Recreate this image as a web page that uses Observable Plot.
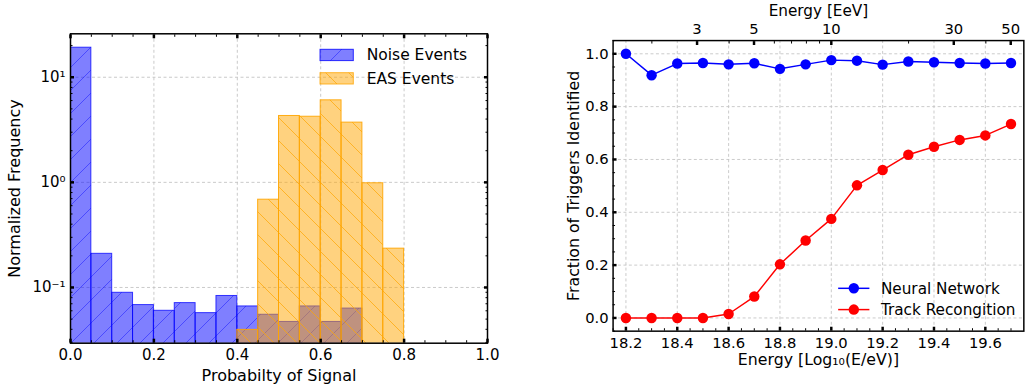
<!DOCTYPE html>
<html><head><meta charset="utf-8">
<script src="https://cdn.jsdelivr.net/npm/d3@7"></script>
<script src="https://cdn.jsdelivr.net/npm/@observablehq/plot@0.6"></script>
<style>
body{margin:0;width:1027px;height:389px;overflow:hidden;background:#fff;position:relative;font-family:"DejaVu Sans";}
#left{position:absolute;left:0;top:0;}
#right{position:absolute;left:500px;top:0;}
svg{overflow:visible;}
</style></head><body>
<div id="left"></div><div id="right"></div>
<script>
// ---- Left: histogram data (bin width 0.05) ----
const noiseBinLeft = [0, 0.05, 0.10, 0.15, 0.20, 0.25, 0.30, 0.35, 0.40, 0.45, 0.50, 0.55, 0.60, 0.65];
const noiseFreq    = [19.1, 0.209, 0.089, 0.068, 0.060, 0.071, 0.057, 0.083, 0.066, 0.055, 0.047, 0.066, 0.047, 0.063];
const easBinLeft   = [0.40, 0.45, 0.50, 0.55, 0.60, 0.65, 0.70, 0.75];
const easFreq      = [0.0395, 0.684, 4.28, 4.21, 6.03, 3.70, 0.98, 0.234];
const binWidth = 0.05;
const histXMajor = [0, 0.2, 0.4, 0.6, 0.8, 1.0];
const histXMinor = [0.05,0.1,0.15,0.25,0.3,0.35,0.45,0.5,0.55,0.65,0.7,0.75,0.85,0.9,0.95];
const histYMajor = [0.1, 1, 10];
const histYMinor = [0.03,0.04,0.05,0.06,0.07,0.08,0.09,0.2,0.3,0.4,0.5,0.6,0.7,0.8,0.9,2,3,4,5,6,7,8,9,20];
const histYLabels = {0.1: "10\u207B\u00B9", 1: "10\u2070", 10: "10\u00B9"};
const histLegend = ["Noise Events", "EAS Events"];

// ---- Right: efficiency data ----
const energyLog = [18.2,18.3,18.4,18.5,18.6,18.7,18.8,18.9,19.0,19.1,19.2,19.3,19.4,19.5,19.6,19.7];
const nnFrac    = [1.000,0.919,0.963,0.965,0.960,0.964,0.943,0.960,0.976,0.974,0.959,0.971,0.968,0.965,0.963,0.965];
const trackFrac = [0,0,0,0,0.015,0.081,0.203,0.293,0.375,0.502,0.560,0.618,0.648,0.674,0.691,0.734];
const effXMajor = [18.2,18.4,18.6,18.8,19.0,19.2,19.4,19.6];
const effXMinor = [18.15,18.25,18.3,18.35,18.45,18.5,18.55,18.65,18.7,18.75,18.85,18.9,18.95,19.05,19.1,19.15,19.25,19.3,19.35,19.45,19.5,19.55,19.65,19.7];
const effYMajor = [0,0.2,0.4,0.6,0.8,1.0];
const effYMinor = [-0.05,0.05,0.1,0.15,0.25,0.3,0.35,0.45,0.5,0.55,0.65,0.7,0.75,0.85,0.9,0.95,1.05];
const eevMajor = [3, 5, 10, 30, 50];
const eevMinor = [2, 4, 6, 7, 8, 9, 20, 40];
const effLegend = ["Neural Network", "Track Recongition"];

const FONT = "DejaVu Sans";
const TICKFS = 15, LABELFS = 16, LEGFS = 15.5;
const gridStyle = {stroke: "#c4c4c4", strokeOpacity: 1, strokeWidth: 0.9, strokeDasharray: "3,2.5"};

function inTicksX(values, anchor, size, width) {
  return Plot.axisX(values, {anchor, tickSize: -size, strokeWidth: width, tickFormat: () => "", label: null});
}
function inTicksY(values, anchor, size, width) {
  return Plot.axisY(values, {anchor, tickSize: -size, strokeWidth: width, tickFormat: () => "", label: null});
}

// ---------- LEFT PLOT ----------
const noise = noiseBinLeft.map((x, i) => ({x1: x, x2: x + binWidth, v: noiseFreq[i]}));
const eas = easBinLeft.map((x, i) => ({x1: x, x2: x + binWidth, v: easFreq[i]}));
const yFloor = 1e-3;

const left = Plot.plot({
  width: 500, height: 389,
  marginLeft: 70, marginRight: 13, marginTop: 33.3, marginBottom: 46.3,
  style: {fontFamily: FONT, fontSize: TICKFS + "px", background: "white", color: "black"},
  x: {domain: [0, 1], axis: null},
  y: {type: "log", domain: [0.0295, 25.9], axis: null},
  marks: [
    Plot.gridX([0.2, 0.4, 0.6, 0.8], gridStyle),
    Plot.gridY(histYMajor, gridStyle),
    Plot.rect(noise, {x1: "x1", x2: "x2", y1: () => yFloor, y2: "v", fill: "blue", fillOpacity: 0.5, clip: true}),
    Plot.rect(noise, {x1: "x1", x2: "x2", y1: () => yFloor, y2: "v", fill: "url(#hatchNoise)", stroke: "blue", strokeOpacity: 0.75, strokeWidth: 1, clip: true}),
    Plot.rect(eas, {x1: "x1", x2: "x2", y1: () => yFloor, y2: "v", fill: "orange", fillOpacity: 0.5, clip: true}),
    Plot.rect(eas, {x1: "x1", x2: "x2", y1: () => yFloor, y2: "v", fill: "url(#hatchEAS)", stroke: "orange", strokeOpacity: 0.9, strokeWidth: 1, clip: true}),
    Plot.frame({stroke: "black", strokeWidth: 1.5}),
    inTicksX(histXMajor, "bottom", 4, 2.5), inTicksX(histXMinor, "bottom", 2.5, 1),
    inTicksX(histXMajor, "top", 4, 2.5), inTicksX(histXMinor, "top", 2.5, 1),
    inTicksY(histYMajor, "left", 4, 2.5), inTicksY(histYMinor, "left", 2.5, 1),
    inTicksY(histYMajor, "right", 4, 2.5), inTicksY(histYMinor, "right", 2.5, 1),
    Plot.axisX(histXMajor, {anchor: "bottom", tickSize: 0, tickPadding: 6, tickFormat: d3.format(".1f"), fontSize: TICKFS, label: null}),
    Plot.axisY(histYMajor, {anchor: "left", tickSize: 0, tickPadding: 5, tickFormat: d => histYLabels[d], fontSize: TICKFS, label: null}),
    Plot.text(["Probabilty of Signal"], {frameAnchor: "bottom", dy: 32.3, lineAnchor: "middle", fontSize: LABELFS}),
    Plot.text(["Normalized Frequency"], {frameAnchor: "left", dx: -56, rotate: -90, textAnchor: "middle", lineAnchor: "middle", fontSize: LABELFS})
  ]
});
document.getElementById("left").appendChild(left);

// defs + legend for left
{
  const svg = d3.select(left);
  const defs = svg.insert("defs", ":first-child");
  const pn = defs.append("pattern").attr("id", "hatchNoise").attr("patternUnits", "userSpaceOnUse").attr("width", 23).attr("height", 23);
  pn.append("path").attr("d", "M0,23L23,0M-5,5L5,-5M18,28L28,18").attr("stroke", "blue").attr("stroke-opacity", 0.42).attr("stroke-width", 1).attr("fill", "none");
  const pe = defs.append("pattern").attr("id", "hatchEAS").attr("patternUnits", "userSpaceOnUse").attr("width", 23).attr("height", 23);
  pe.append("path").attr("d", "M0,0L23,23M-5,18L5,28M18,-5L28,5").attr("stroke", "orange").attr("stroke-opacity", 0.7).attr("stroke-width", 1).attr("fill", "none");
  const lg = svg.append("g").attr("font-family", FONT).attr("font-size", LEGFS).attr("text-anchor", "start");
  const items = [
    {label: histLegend[0], color: "blue", hatch: "hatchNoise", y: 49.3},
    {label: histLegend[1], color: "orange", hatch: "hatchEAS", y: 72.7}
  ];
  items.forEach(it => {
    lg.append("rect").attr("x", 320).attr("y", it.y).attr("width", 33.3).attr("height", 11.3).attr("fill", it.color).attr("fill-opacity", 0.5);
    lg.append("rect").attr("x", 320).attr("y", it.y).attr("width", 33.3).attr("height", 11.3).attr("fill", `url(#${it.hatch})`).attr("stroke", it.color).attr("stroke-opacity", 0.8);
    lg.append("text").attr("x", 366.7).attr("y", it.y + 5.7).attr("dy", "0.35em").attr("text-anchor", "start").text(it.label);
  });
}

// ---------- RIGHT PLOT ----------
const effData = energyLog.flatMap((e, i) => [
  {e, f: nnFrac[i], s: effLegend[0]},
  {e, f: trackFrac[i], s: effLegend[1]}
]);
const eevPos = v => 18 + Math.log10(v);
const right = Plot.plot({
  width: 535, height: 389,
  marginLeft: 114.3, marginRight: 3.7, marginTop: 40.7, marginBottom: 53.3,
  style: {fontFamily: FONT, fontSize: TICKFS + "px", background: "white", color: "black"},
  x: {domain: [18.15, 19.75], axis: null},
  y: {domain: [-0.05, 1.05], axis: null},
  color: {domain: effLegend, range: ["blue", "red"]},
  marks: [
    Plot.gridX(effXMajor, gridStyle),
    Plot.gridY(effYMajor, gridStyle),
    Plot.line(effData, {x: "e", y: "f", z: "s", stroke: "s", strokeWidth: 1.5}),
    Plot.dot(effData, {x: "e", y: "f", fill: "s", r: 5.3}),
    Plot.frame({stroke: "black", strokeWidth: 1.5}),
    inTicksX(effXMajor, "bottom", 4, 2.5), inTicksX(effXMinor, "bottom", 2.5, 1),
    inTicksX(eevMajor.map(eevPos), "top", 4, 2.5), inTicksX(eevMinor.map(eevPos), "top", 2.5, 1),
    inTicksY(effYMajor, "left", 4, 2.5), inTicksY(effYMinor, "left", 2.5, 1),
    Plot.axisX(effXMajor, {anchor: "bottom", tickSize: 0, tickPadding: 6, tickFormat: d3.format(".1f"), fontSize: TICKFS, label: null}),
    Plot.axisX(eevMajor.map(eevPos), {anchor: "top", tickSize: 0, tickPadding: 6.5, tickFormat: (d, i) => String(eevMajor[i]), fontSize: TICKFS, label: null}),
    Plot.axisY(effYMajor, {anchor: "left", tickSize: 0, tickPadding: 4.5, tickFormat: d3.format(".1f"), fontSize: TICKFS, label: null}),
    Plot.text(["Energy [Log\u2081\u2080(E/eV)]"], {frameAnchor: "bottom", dy: 29.3, lineAnchor: "middle", fontSize: LABELFS}),
    Plot.text(["Energy [EeV]"], {frameAnchor: "top", dy: -30.2, lineAnchor: "middle", fontSize: 15.5}),
    Plot.text(["Fraction of Triggers Identified"], {frameAnchor: "left", dx: -39.3, rotate: -90, textAnchor: "middle", lineAnchor: "middle", fontSize: LABELFS})
  ]
});
document.getElementById("right").appendChild(right);

{
  const svg = d3.select(right);
  const lg = svg.append("g").attr("font-family", FONT).attr("font-size", LEGFS).attr("text-anchor", "start");
  [{label: effLegend[0], color: "blue", y: 292.7}, {label: effLegend[1], color: "red", y: 314.3}].forEach(it => {
    lg.append("line").attr("x1", 343.3).attr("x2", 375).attr("y1", it.y).attr("y2", it.y).attr("stroke", it.color).attr("stroke-width", 1.5);
    lg.append("circle").attr("cx", 359.2).attr("cy", it.y).attr("r", 5.3).attr("fill", it.color);
    lg.append("text").attr("x", 386.7).attr("y", it.y).attr("dy", "0.35em").attr("text-anchor", "start").text(it.label);
  });
}
</script>
</body></html>
